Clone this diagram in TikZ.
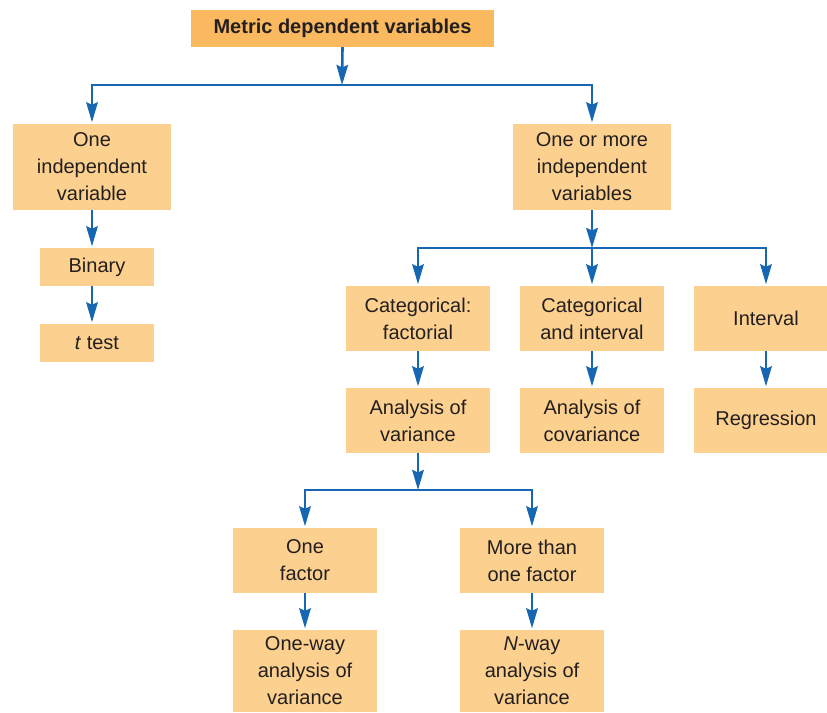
\documentclass[tikz,border=0pt]{standalone}
\usepackage{fontspec}
\setmainfont{Liberation Sans}
\usetikzlibrary{arrows.meta}
\definecolor{boxfill}{RGB}{252,208,142}
\definecolor{topfill}{RGB}{251,185,95}
\definecolor{arrblue}{RGB}{22,102,178}
\definecolor{txt}{RGB}{35,31,32}
\begin{document}
\begin{tikzpicture}[x=1pt,y=-1pt,
  box/.style={fill=boxfill,draw=none,inner sep=0pt,align=center,text=txt,
    font=\fontsize{20}{27}\selectfont,anchor=center},
  conn/.style={draw=arrblue,line width=2.6pt,line join=miter},
  tip/.style={-{Stealth[length=20pt,width=11.5pt,inset=2.5pt]}},
  tips/.style={{Stealth[length=20pt,width=11.5pt,inset=2.5pt]}-{Stealth[length=20pt,width=11.5pt,inset=2.5pt]}}]
\useasboundingbox (0,0) rectangle (827,712);
\clip (0,0) rectangle (827,712);
% nodes
\node[box,fill=topfill,minimum width=303pt,minimum height=37pt,font=\bfseries\fontsize{20}{27}\selectfont] (top) at (342.5,28.5) {Metric dependent variables};
\node[box,minimum width=158pt,minimum height=86pt] (oneiv) at (92,167) {One\\independent\\variable};
\node[box,minimum width=114pt,minimum height=38pt] (binary) at (97,267) {Binary};
\node[box,minimum width=114pt,minimum height=38pt] (ttest) at (97,343) {\textit{t} test};
\node[box,minimum width=158pt,minimum height=86pt] (onemore) at (592,167) {One or more\\independent\\variables};
\node[box,minimum width=144pt,minimum height=65pt] (catfac) at (418,318.5) {Categorical:\\factorial};
\node[box,minimum width=144pt,minimum height=65pt] (catint) at (592,318.5) {Categorical\\and interval};
\node[box,minimum width=144pt,minimum height=65pt] (interval) at (766,318.5) {Interval};
\node[box,minimum width=144pt,minimum height=65pt] (anova) at (418,420.5) {Analysis of\\variance};
\node[box,minimum width=144pt,minimum height=65pt] (ancova) at (592,420.5) {Analysis of\\covariance};
\node[box,minimum width=144pt,minimum height=65pt] (regr) at (766,420.5) {Regression};
\node[box,minimum width=144pt,minimum height=65pt] (onefac) at (305,560.5) {One\\factor};
\node[box,minimum width=144pt,minimum height=65pt] (morefac) at (532,560.5) {More than\\one factor};
\node[box,minimum width=144pt,minimum height=82pt] (oneway) at (305,671) {One-way\\analysis of\\variance};
\node[box,minimum width=144pt,minimum height=82pt] (nway) at (532,671) {\textit{N}-way\\analysis of\\variance};
% junction coordinates
\coordinate (h1) at (342,85);
\coordinate (h2) at (592,248);
\coordinate (h3) at (418,490);
% connectors
\draw[conn,tip] (top.south) -- (h1);
\draw[conn,tips,shorten <=1.5pt,shorten >=1.5pt] (oneiv.north) |- (h1) -| (onemore.north);
\draw[conn,tip,shorten >=1.5pt] (oneiv.south) -- (oneiv.south |- binary.north);
\draw[conn,tip,shorten >=1.5pt] (oneiv.south |- binary.south) -- (oneiv.south |- ttest.north);
\draw[conn,tip] (onemore.south) -- (h2);
\draw[conn,tips,shorten <=1.5pt,shorten >=1.5pt] (catfac.north) |- (h2) -| (interval.north);
\draw[conn,tip,shorten >=1.5pt] (h2) -- (catint.north);
\draw[conn,tip,shorten >=1.5pt] (catfac.south) -- (anova.north);
\draw[conn,tip,shorten >=1.5pt] (catint.south) -- (ancova.north);
\draw[conn,tip,shorten >=1.5pt] (interval.south) -- (regr.north);
\draw[conn,tip] (anova.south) -- (h3);
\draw[conn,tips,shorten <=1.5pt,shorten >=1.5pt] (onefac.north) |- (h3) -| (morefac.north);
\draw[conn,tip,shorten >=1.5pt] (onefac.south) -- (oneway.north);
\draw[conn,tip,shorten >=1.5pt] (morefac.south) -- (nway.north);
\end{tikzpicture}
\end{document}
